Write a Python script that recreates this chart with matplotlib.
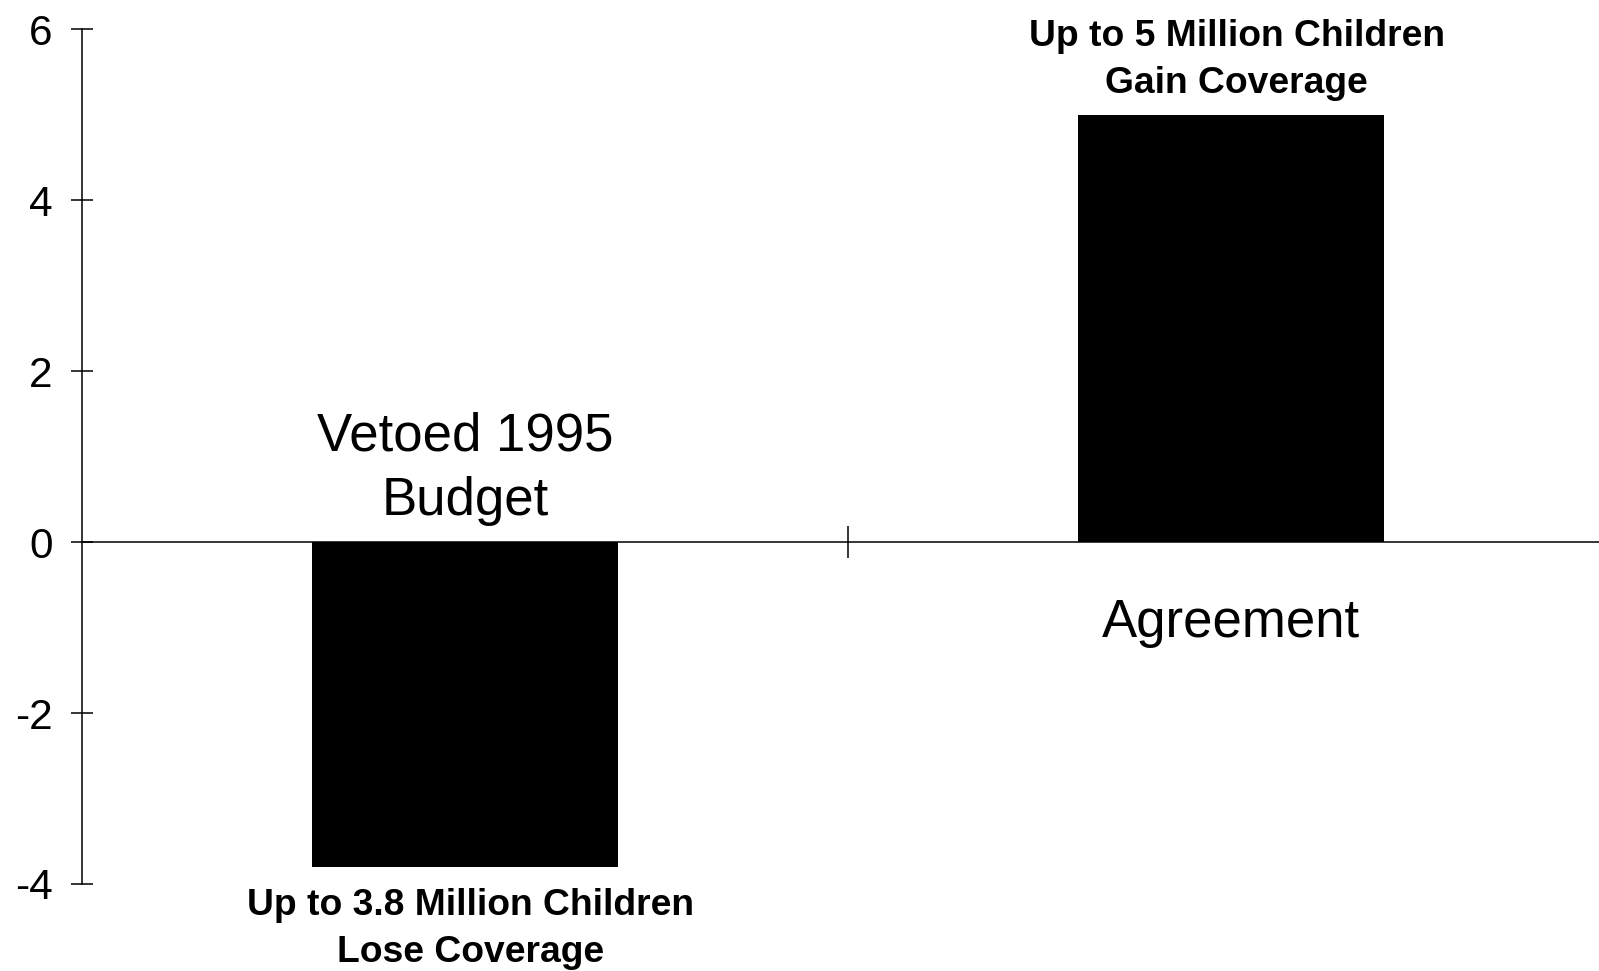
import matplotlib.pyplot as plt

plt.rcParams['font.family'] = ['Liberation Sans', 'DejaVu Sans']
plt.rcParams['axes.unicode_minus'] = False

categories = ["Vetoed 1995\nBudget", "Agreement"]
coverage_change = [-3.8, 5.0]  # millions of children
impact_labels = ["Up to 3.8 Million Children\nLose Coverage",
                 "Up to 5 Million Children\nGain Coverage"]
y_ticks = [-4, -2, 0, 2, 4, 6]

fig = plt.figure(figsize=(15.99, 9.71), dpi=100)
ax = fig.add_axes([0.0513, 0.0896, 0.9487, 0.8804])

x = list(range(len(categories)))
ax.bar(x, coverage_change, width=0.40, color='black', zorder=2)

ax.set_xlim(-0.5, 1.48)
ax.set_ylim(-4, 6)

# axes: y spine at left, x axis drawn through zero
ax.spines['top'].set_visible(False)
ax.spines['right'].set_visible(False)
ax.spines['bottom'].set_position(('data', 0))
ax.spines['left'].set_linewidth(1.1)
ax.spines['bottom'].set_linewidth(1.1)

ax.set_yticks(y_ticks)
ax.set_yticklabels([str(t) for t in y_ticks])
ax.tick_params(axis='y', direction='inout', length=16.5, width=1.1,
               labelsize=30.5, pad=13)
ax.set_xticks([0.5])
ax.set_xticklabels([])
ax.tick_params(axis='x', direction='inout', length=23, width=1.1)

for i, (name, val, note) in enumerate(zip(categories, coverage_change, impact_labels)):
    # category name sits on the opposite side of zero from the bar
    side = 1 if val < 0 else -1
    off = 53 if val < 0 else 58
    ax.annotate(name, xy=(i, 0), xytext=(0, side * off), textcoords='offset points',
                ha='center', va='center', fontsize=38, linespacing=1.37,
                annotation_clip=False)
    # impact note just beyond the end of the bar
    sign = 1 if val > 0 else -1
    off = 39.5 if val > 0 else 44.5
    ax.annotate(note, xy=(i, val), xytext=(4, sign * off), textcoords='offset points',
                ha='center', va='center', fontsize=26.8, fontweight='bold',
                linespacing=1.43, annotation_clip=False)

fig.savefig('out.png', dpi=100)
